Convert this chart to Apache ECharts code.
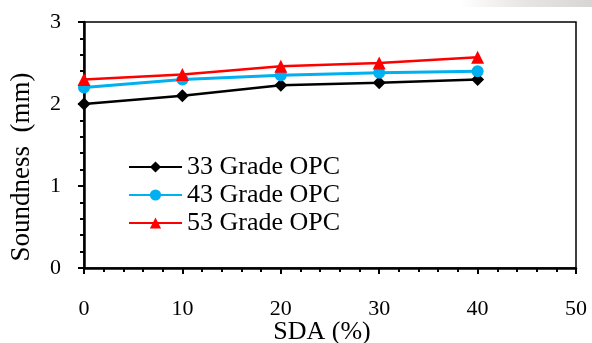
<!DOCTYPE html>
<html>
<head>
<meta charset="utf-8">
<style>
  html, body { margin: 0; padding: 0; background: #fff; }
  #chart { width: 592px; height: 343px; }
</style>
<script src="https://cdn.jsdelivr.net/npm/echarts@6/dist/echarts.min.js"></script>
</head>
<body>
<div id="chart"></div>
<script>
// SDA replacement levels (%)
const sdaLevels = [0, 10, 20, 30, 40];
// Soundness (mm) for each cement grade
const grade33 = [2.00, 2.10, 2.23, 2.26, 2.30];
const grade43 = [2.20, 2.30, 2.35, 2.38, 2.40];
const grade53 = [2.30, 2.36, 2.46, 2.50, 2.57];
const seriesNames = ['33 Grade OPC', '43 Grade OPC', '53 Grade OPC'];
const xTitle = 'SDA (%)';
const yTitle = 'Soundness  (mm)';

const font = '"Liberation Serif", "Times New Roman", serif';
const chart = echarts.init(document.getElementById('chart'), null, { renderer: 'canvas' });

const pairs = vals => sdaLevels.map((x, i) => [x, vals[i]]);

function lineSeries(name, vals, color, symbol, size, width) {
  return {
    name: name,
    type: 'line',
    data: pairs(vals),
    symbol: symbol,
    symbolSize: size,
    showAllSymbol: true,
    lineStyle: { color: color, width: width },
    itemStyle: { color: color },
    emphasis: { disabled: true },
    z: 3
  };
}

chart.setOption({
  animation: false,
  backgroundColor: '#fff',
  textStyle: { fontFamily: font },
  graphic: [{
    // faint grey shading along the top-right edge
    type: 'rect',
    shape: { x: 460, y: 0, width: 132, height: 7 },
    style: {
      fill: new echarts.graphic.LinearGradient(0, 0, 1, 0, [
        { offset: 0, color: 'rgba(225,222,220,0)' },
        { offset: 0.5, color: 'rgba(225,222,220,0.8)' },
        { offset: 1, color: 'rgba(215,213,212,1)' }
      ])
    },
    silent: true,
    z: 0
  }, {
    // vertical axis title, rotated to read bottom-up
    type: 'text',
    x: 22,
    y: 167,
    rotation: Math.PI / 2,
    style: {
      text: yTitle,
      fontSize: 27,
      fontFamily: font,
      fill: '#000',
      align: 'center',
      verticalAlign: 'middle'
    },
    silent: true
  }],
  grid: {
    left: 84, right: 16, top: 22, bottom: 75,
    outerBoundsMode: 'none', containLabel: false,
    show: true, borderColor: '#000', borderWidth: 1.5
  },
  legend: {
    orient: 'vertical',
    left: 128,
    top: 154,
    padding: 0,
    itemWidth: 53,
    itemHeight: 14,
    itemGap: 2,
    data: seriesNames,
    textStyle: { fontFamily: font, fontSize: 26, lineHeight: 26, color: '#000' }
  },
  xAxis: {
    type: 'value',
    min: 0, max: 50, interval: 10,
    name: xTitle,
    nameLocation: 'middle',
    nameGap: 51,
    nameMoveOverlap: false,
    nameTextStyle: { fontFamily: font, fontSize: 26, color: '#000', padding: [0, 16, 0, 0] },
    axisLine: { show: true, onZero: false, lineStyle: { color: '#000', width: 2.5 } },
    axisTick: { show: true, inside: false, length: 6, lineStyle: { color: '#000', width: 2 } },
    minorTick: { show: true, splitNumber: 5, length: 4, lineStyle: { color: '#000', width: 2 } },
    axisLabel: { fontFamily: font, fontSize: 22, color: '#000', margin: 30 },
    splitLine: { show: false }
  },
  yAxis: {
    type: 'value',
    min: 0, max: 3, interval: 1,
    axisLine: { show: true, onZero: false, lineStyle: { color: '#000', width: 2.5 } },
    axisTick: { show: true, inside: false, length: 6, lineStyle: { color: '#000', width: 2 } },
    minorTick: { show: true, splitNumber: 5, length: 4, lineStyle: { color: '#000', width: 2 } },
    axisLabel: { fontFamily: font, fontSize: 22, color: '#000', margin: 23 },
    splitLine: { show: false }
  },
  series: [
    lineSeries(seriesNames[0], grade33, '#000000', 'diamond', 13, 2.5),
    lineSeries(seriesNames[1], grade43, '#00b0f0', 'circle', 12, 3),
    lineSeries(seriesNames[2], grade53, '#ff0000', 'triangle', 13, 2.5)
  ]
});
</script>
</body>
</html>
